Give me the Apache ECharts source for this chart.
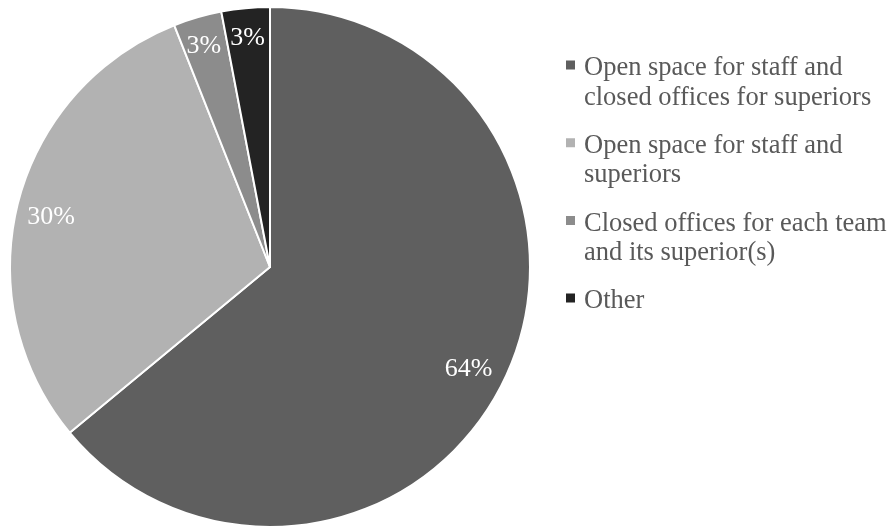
<!DOCTYPE html>
<html>
<head>
<meta charset="utf-8">
<script src="https://cdn.jsdelivr.net/npm/echarts@6/dist/echarts.min.js"></script>
<style>
  html, body { margin: 0; padding: 0; background: #ffffff; }
  #chart { width: 892px; height: 526px; }
</style>
</head>
<body>
<div id="chart"></div>
<script>
// Office layout preferences (share of respondents, %)
const categories = [
  'Open space for staff and\nclosed offices for superiors',
  'Open space for staff and\nsuperiors',
  'Closed offices for each team\nand its superior(s)',
  'Other'
];
const shares = [64, 30, 3, 3];
const sliceColors = ['#5f5f5f', '#b2b2b2', '#8c8c8c', '#232323'];

const chart = echarts.init(document.getElementById('chart'));

const pieData = categories.map((name, i) => ({
  name,
  value: shares[i],
  itemStyle: { color: sliceColors[i] }
}));

const labelFont = {
  color: '#ffffff',
  fontFamily: 'Liberation Serif',
  fontSize: 26,
  formatter: '{c}%'
};

// Transparent label ring: same slices, labels centred between r0 and r
function labelRing(radius, showFn, nudge) {
  return {
    type: 'pie',
    center: [270, 267],
    radius,
    startAngle: 90,
    clockwise: true,
    silent: true,
    z: 5,
    data: pieData.map(d => ({
      name: d.name,
      value: d.value,
      itemStyle: { color: 'rgba(0,0,0,0)', borderWidth: 0 },
      label: { show: showFn(d.value) }
    })),
    label: Object.assign({ position: 'inside' }, labelFont),
    labelLayout: nudge,
    labelLine: { show: false },
    emphasis: { disabled: true },
    legendHoverLink: false,
    tooltip: { show: false }
  };
}

// Legend swatch: 9px square near the top of a tall icon box, so it sits
// beside the first line of a wrapped label; the bare strokes only span the box
const swatchPath = 'path://M0,0L13,0M0,7L9,7L9,16L0,16ZM0,59L13,59';

chart.setOption({
  animation: false,
  backgroundColor: '#ffffff',
  legend: {
    orient: 'vertical',
    left: 561,
    top: 48.5,
    itemWidth: 13,
    itemHeight: 59,
    itemGap: 18.7,
    icon: swatchPath,
    itemStyle: { borderWidth: 0 },
    data: categories,
    formatter: name => (name.indexOf('\n') < 0 ? name + '\n ' : name),
    textStyle: {
      fontFamily: 'Liberation Serif',
      fontSize: 26.5,
      color: '#595959',
      lineHeight: 29.5
    }
  },
  series: [
    {
      type: 'pie',
      center: [270, 267],
      radius: [0, 260],
      startAngle: 90,
      clockwise: true,
      data: pieData,
      itemStyle: { borderColor: '#ffffff', borderWidth: 2 },
      label: { show: false },
      labelLine: { show: false },
      emphasis: { disabled: true }
    },
    labelRing([184, 260], v => v >= 10,
      p => ({ dx: p.dataIndex === 0 ? -5 : -1, dy: 6 })),
    labelRing([208, 260], v => v < 10, () => ({ dy: 7 }))
  ]
});
</script>
</body>
</html>
